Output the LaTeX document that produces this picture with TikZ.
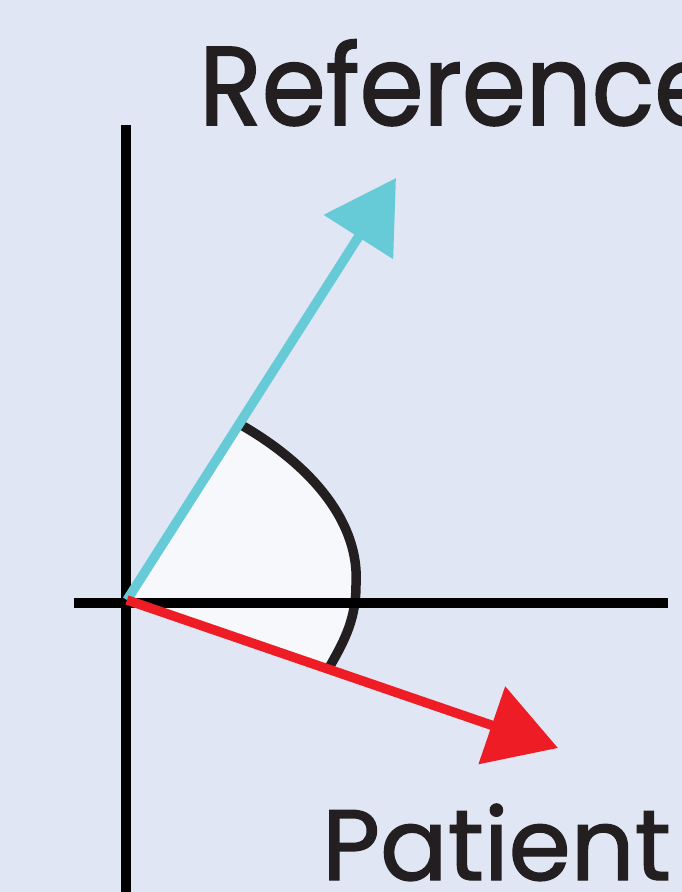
\documentclass[tikz,border=0pt]{standalone}
\usepackage{fontspec}
\setmainfont{Poppins}[FakeBold=1.4]
\newfontfamily\reffont{Poppins}[FakeBold=1.4,FakeStretch=0.92]
\newfontfamily\patfont{Poppins}[FakeBold=1.4,FakeStretch=1.0]
\usetikzlibrary{arrows.meta}
\definecolor{bg}{HTML}{E0E6F4}
\definecolor{refcol}{HTML}{66CBD7}
\definecolor{patcol}{HTML}{EE1C25}
\definecolor{sectorfill}{HTML}{F7F8FC}
\definecolor{inkcol}{HTML}{231F20}
\tikzset{
  axisline/.style={line width=10pt, black},
  vecline/.style={line width=9.5pt, -{Triangle[length=70pt,width=80pt]}},
  arcline/.style={line width=9.5pt, inkcol},
  bigtext/.style={text=inkcol, inner sep=0pt, anchor=base west}
}
\begin{document}
\begin{tikzpicture}[x=1pt,y=-1pt]
\fill[bg] (0,0) rectangle (682,892);
\useasboundingbox (0,0) rectangle (682,892);
\clip (0,0) rectangle (682,892);
\coordinate (O) at (127,600);
\coordinate (reftip) at (396,178);
\coordinate (pattip) at (558,748);
\coordinate (arcA) at (243,426);
\coordinate (arcM) at (356,585);
\coordinate (arcB) at (330,666);
% sector
\fill[sectorfill] (O) -- (arcA) .. controls (315,468) and (360,525) .. (arcM) .. controls (356,618) and (345,640) .. (arcB) -- cycle;
\draw[arcline] (arcA) .. controls (315,468) and (360,525) .. (arcM) .. controls (356,618) and (345,640) .. (arcB);
% axes
\coordinate (vtop) at (125.5,125);
\coordinate (vbot) at (125.5,900);
\coordinate (hleft) at (74,603);
\coordinate (hright) at (668,603);
\draw[axisline] (vtop) -- (vbot);
\draw[axisline] (hleft) -- (hright);
% vectors
\draw[vecline, refcol] (O) -- (reftip);
\draw[vecline, patcol] (O) -- (pattip);
% labels
\node[bigtext, font=\reffont\fontsize{112}{112}\selectfont] (reflabel) at (199,125) {Reference};
\node[bigtext, font=\patfont\fontsize{100}{100}\selectfont] (patlabel) at (322,880) {Patient};
\end{tikzpicture}
\end{document}
